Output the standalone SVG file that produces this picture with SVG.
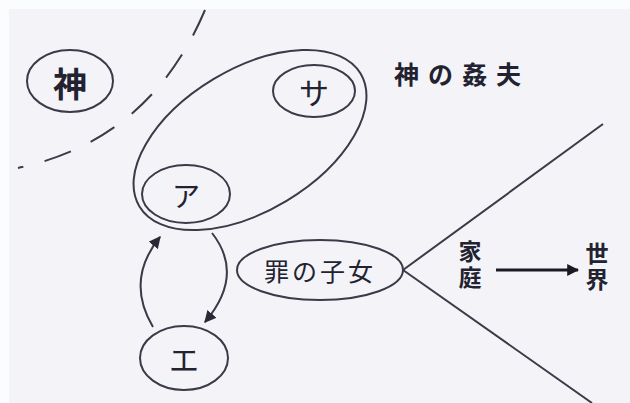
<svg xmlns="http://www.w3.org/2000/svg" width="630" height="403" viewBox="0 0 630 403">
<defs>
<style>
.ln{fill:none;stroke:#3a3a48;stroke-width:2}
.t{font-family:"Noto Sans CJK JP","Noto Sans CJK SC",sans-serif;fill:#222230;text-anchor:middle;dominant-baseline:central}
.v{font-family:"Noto Sans CJK JP","Noto Sans CJK SC",sans-serif;fill:#222230;text-anchor:middle;writing-mode:vertical-rl;font-size:23px;font-weight:bold;letter-spacing:3px}
</style>
<marker id="ah" viewBox="0 0 10 10" refX="9" refY="5" markerWidth="6" markerHeight="6" orient="auto" markerUnits="strokeWidth">
<path d="M0,0 L10,5 L0,10 Z" fill="#2a2a36"/>
</marker>
<marker id="ah2" viewBox="0 0 10 10" refX="9" refY="5" markerWidth="4" markerHeight="4" orient="auto" markerUnits="strokeWidth">
<path d="M0,0 L10,5 L0,10 Z" fill="#1a1a24"/>
</marker>
</defs>
<rect width="630" height="403" fill="#fbfcfe"/>
<rect x="9" y="9" width="621" height="394" fill="#f4f4f8"/>
<g id="connectors">
<path class="ln" d="M205,10 Q150,140 18,168" stroke-dasharray="28,22"/>
<path class="ln" d="M153,327 Q125,280 160,237" marker-end="url(#ah)"/>
<path class="ln" d="M212,233 Q245,275 205,322" marker-end="url(#ah)"/>
<path class="ln" d="M403,270 L603,124"/>
<path class="ln" d="M403,270 L592,403"/>
<path d="M496,270 L578,270" fill="none" stroke="#1a1a24" stroke-width="3" marker-end="url(#ah2)"/>
</g>
<g id="group-sa-a">
<ellipse class="ln" cx="250" cy="140" rx="129" ry="71" transform="rotate(-31 250 140)"/>
</g>
<g id="kami">
<ellipse class="ln" cx="70" cy="81" rx="43" ry="31"/>
<text class="t" x="70" y="82" font-size="34" font-weight="bold">神</text>
</g>
<g id="sa">
<ellipse class="ln" cx="314" cy="91" rx="41" ry="26"/>
<text class="t" x="314" y="91" font-size="30">サ</text>
</g>
<g id="a">
<ellipse class="ln" cx="186" cy="194" rx="44" ry="29"/>
<text class="t" x="186" y="195" font-size="28">ア</text>
</g>
<g id="e">
<ellipse class="ln" cx="184" cy="358" rx="44" ry="32"/>
<text class="t" x="184" y="358" font-size="30">エ</text>
</g>
<g id="tsumi">
<ellipse class="ln" cx="320" cy="270" rx="83" ry="30"/>
<text class="t" x="320" y="270" font-size="25" letter-spacing="3">罪の子女</text>
</g>
<g id="label-kan">
<text class="t" x="462" y="73" font-size="25" letter-spacing="9" font-weight="bold">神の姦夫</text>
</g>
<g id="katei">
<text class="v" x="470" y="266">家庭</text>
</g>
<g id="sekai">
<text class="v" x="597" y="268">世界</text>
</g>
</svg>
